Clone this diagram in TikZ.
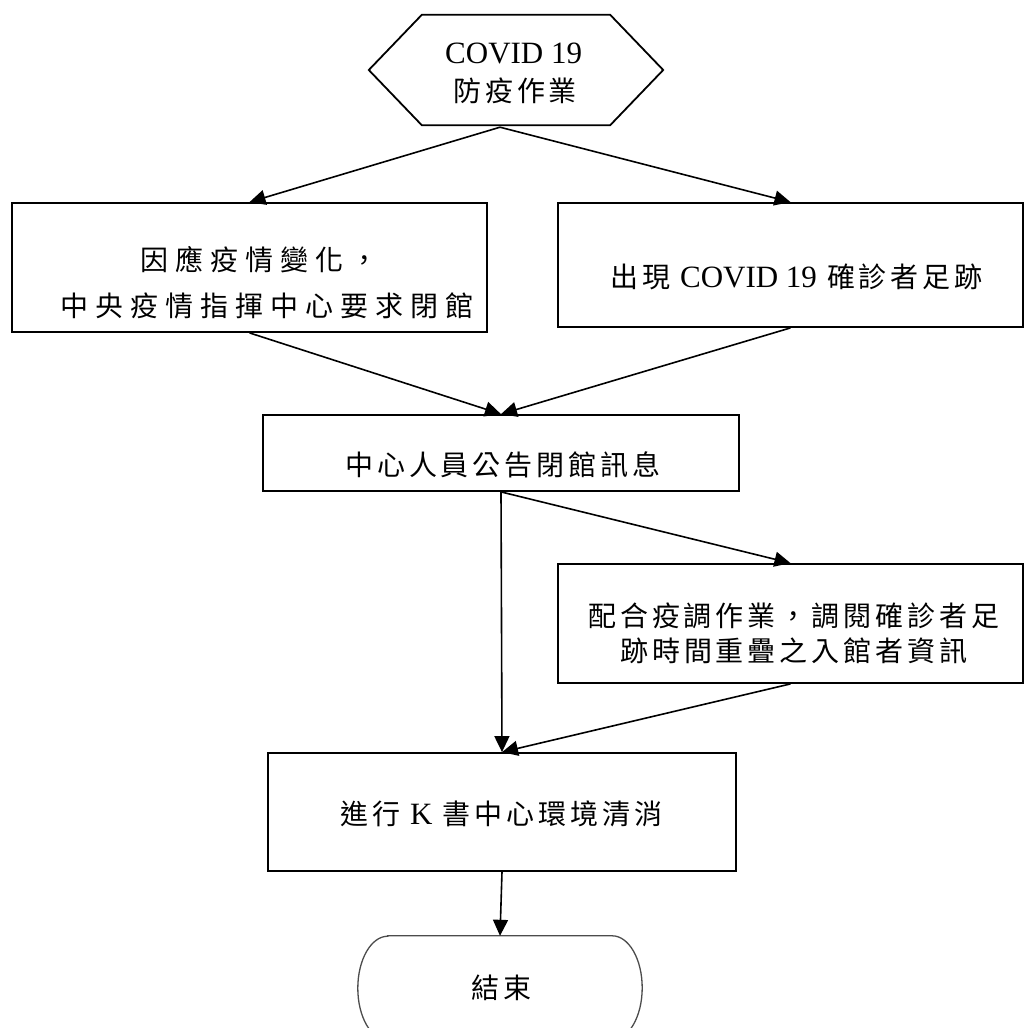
\documentclass[tikz,border=0pt]{standalone}
\usepackage{fontspec}
\setmainfont{Liberation Serif}
\newfontfamily\cjk[LetterSpace=14]{Noto Sans CJK TC}
\newfontfamily\cjkwide[LetterSpace=25]{Noto Sans CJK TC}
\newcommand\lat{\rmfamily\fontsize{31}{36}\selectfont}
\newcommand\latgap{\hspace{10pt}}
\usetikzlibrary{arrows.meta}
\tikzset{
  boxnode/.style={draw, line width=1.8pt, inner sep=0pt},
  holder/.style={inner sep=0pt},
  txt/.style={inner sep=0pt, anchor=base west, font=\cjk\fontsize{28}{32}\selectfont},
  widetxt/.style={txt, font=\cjkwide\fontsize{28}{32}\selectfont},
  conn/.style={line width=1.6pt, -{Triangle[length=16pt,width=15pt]}},
  termline/.style={line width=1.3pt, draw=black!70},
}
\begin{document}
\begin{tikzpicture}[x=1pt,y=-1pt]
\useasboundingbox (0,0) rectangle (1025,1028);
\clip (0,0) rectangle (1025,1028);

% start hexagon
\node[holder, minimum width=294pt, minimum height=110pt] (hex) at (516,70) {};
\draw[line width=1.8pt] (hex.west) -- ([xshift=53pt]hex.north west) -- ([xshift=-53pt]hex.north east)
  -- (hex.east) -- ([xshift=-53pt]hex.south east) -- ([xshift=53pt]hex.south west) -- cycle;
\node[txt, font=\lat] (hexa) at (445,63) {COVID 19};
\node[txt] (hexb) at (453,101) {防疫作業};

% boxes
\node[boxnode, minimum width=475pt, minimum height=129pt] (b1) at (249.5,267.5) {};
\node[widetxt] (b1a) at (140,270) {因應疫情變化，};
\node[widetxt] (b1b) at (60,316) {中央疫情指揮中心要求閉館};

\node[boxnode, minimum width=465pt, minimum height=124pt] (b2) at (790.5,265) {};
\node[txt] (b2a) at (610,287) {出現\latgap{\lat COVID 19}\latgap 確診者足跡};

\node[boxnode, minimum width=476pt, minimum height=76pt] (b3) at (501,453) {};
\node[txt] (b3a) at (345,475) {中心人員公告閉館訊息};

\node[boxnode, minimum width=465pt, minimum height=119pt] (b4) at (790.5,623.5) {};
\node[txt] (b4a) at (588,626) {配合疫調作業，調閱確診者足};
\node[txt] (b4b) at (620,661) {跡時間重疊之入館者資訊};

\node[boxnode, minimum width=468pt, minimum height=118pt] (b5) at (502,812) {};
\node[txt] (b5a) at (340,824) {進行\latgap{\lat K}\latgap 書中心環境清消};

% terminal
\node[holder, minimum width=284pt, minimum height=104pt] (endn) at (500,988) {};
\draw[termline] ([xshift=30pt]endn.north west) -- ([xshift=-30pt]endn.north east)
  arc[start angle=90, end angle=-90, x radius=30pt, y radius=52pt]
  -- ([xshift=30pt]endn.south west)
  arc[start angle=270, end angle=90, x radius=30pt, y radius=52pt] -- cycle;
\node[txt] (enda) at (471,998) {結束};

% connectors
\coordinate (hexout) at ([xshift=-16pt,yshift=-2pt]hex.south);
\draw[conn] (hexout) -- (b1.north);
\draw[conn] (hexout) -- (b2.north);
\draw[conn] (b1.south) -- (b3.north);
\draw[conn] (b2.south) -- (b3.north);
\draw[conn] (b3.south) -- (b4.north);
\draw[conn] (b3.south) -- (b5.north);
\draw[conn] (b4.south) -- (b5.north);
\draw[conn] (b5.south) -- (endn.north);
\end{tikzpicture}
\end{document}
